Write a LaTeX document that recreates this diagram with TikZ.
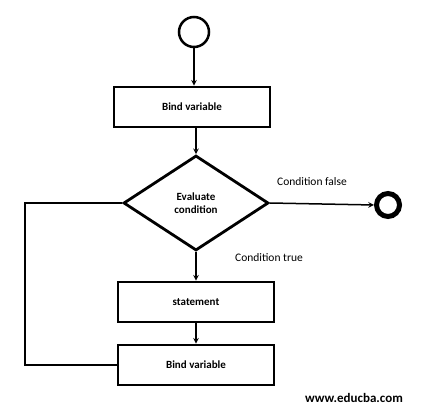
\documentclass[tikz,border=0pt]{standalone}
\usepackage{fontspec}
\setmainfont{Carlito}
\usetikzlibrary{shapes.geometric}
\tikzstyle{block}=[draw, line width=2.8pt, minimum width=156pt, minimum height=40pt, inner sep=0, font=\bfseries\fontsize{11}{13}\selectfont]
\tikzstyle{decision}=[diamond, draw, line width=2.8pt, minimum width=145pt, minimum height=95pt, inner sep=0, align=center, font=\bfseries\fontsize{11}{13}\selectfont]
\tikzstyle{flow}=[line width=1.5pt, ->, >=stealth]
\tikzstyle{note}=[inner sep=0, font=\fontsize{11.5}{13}\selectfont]

\begin{document}
\begin{tikzpicture}[x=1pt, y=-1pt]
  \useasboundingbox (0,0) rectangle (423,414);
  % start and end
  \node[draw, circle, line width=2.5pt, minimum size=30pt, inner sep=0] (start) at (194,32) {};
  \node[draw, circle, line width=5pt, minimum size=23pt, inner sep=0] (stop) at (388,205) {};
  % steps
  \node[block] (bind1) at (192,107) {Bind variable};
  \node[decision] (eval) at (196,203) {Evaluate\\condition};
  \node[block] (stmt) at (196,302) {statement};
  \node[block] (bind2) at (196,365) {Bind variable};
  \coordinate (loop) at (25,203);
  % labels
  \node[note] (false) at (312,182) {Condition false};
  \node[note] (true) at (269,258) {Condition true};
  \node[note, font=\bfseries\fontsize{13}{15}\selectfont] (site) at (354,398) {www.educba.com};
  % connectors
  \draw[flow] (start.south) -- (start.south |- bind1.north);
  \draw[flow] (eval.north |- bind1.south) -- (eval.north);
  \draw[flow] (eval.east) -- (stop.west);
  \draw[flow] (eval.south) -- (stmt.north);
  \draw[flow] (stmt.south) -- (bind2.north);
  \draw[line width=1.5pt] (bind2.west) -| (loop) -- (eval.west);
\end{tikzpicture}
\end{document}
